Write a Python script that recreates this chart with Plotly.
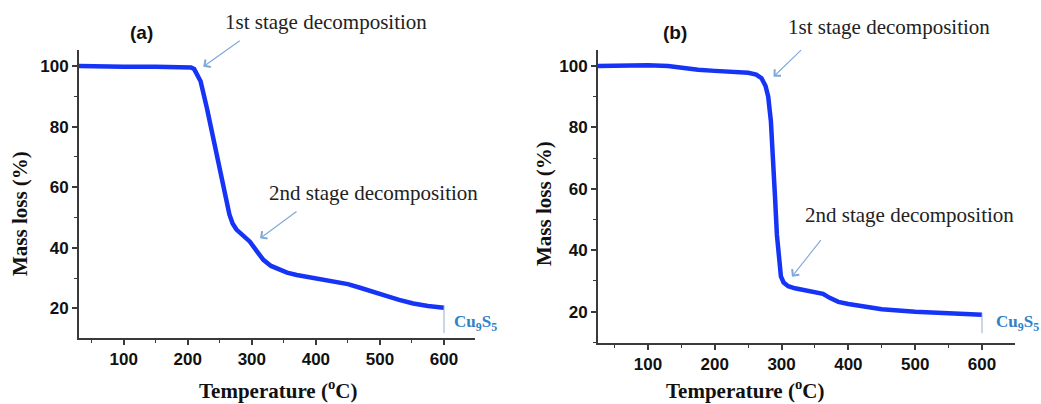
import plotly.graph_objects as go

W, H = 1041, 404

# ---------------- data ----------------
temp_a = [30, 50, 100, 150, 190, 200, 205, 210, 215, 220, 230, 240, 250, 258, 265, 270, 276,
          285, 297, 308, 318, 330, 340, 355, 370, 400, 422, 450, 469, 500, 511, 530, 552, 575, 600]
mass_a = [100.0, 99.9, 99.8, 99.8, 99.8, 99.7, 99.5, 99.0, 97.3, 95.0, 86.0, 76.5, 66.5, 58.0, 51.0,
          48.0, 46.0, 44.2, 42.0, 38.8, 36.0, 34.0, 33.0, 31.8, 31.0, 30.0, 28.9, 28.0, 26.8,
          25.0, 24.0, 22.8, 21.6, 20.8, 20.2]

temp_b = [25, 50, 100, 130, 150, 175, 200, 225, 250, 262, 270, 276, 280, 284, 287, 290, 293,
          296, 299, 303, 310, 320, 335, 350, 362, 372, 385, 400, 425, 450, 500, 550, 600]
mass_b = [100.0, 100.1, 100.2, 100.0, 99.4, 98.8, 98.4, 98.2, 97.8, 97.2, 96.0, 93.5, 90.0,
          82.0, 72.0, 58.0, 45.0, 36.0, 31.5, 29.5, 28.3, 27.6, 27.0, 26.5, 25.8, 24.5, 23.2,
          22.5, 21.5, 20.8, 20.0, 19.5, 19.0]

x_ticks = [100, 200, 300, 400, 500, 600]
y_ticks = [20, 40, 60, 80, 100]

panel_labels = ["(a)", "(b)"]
stage1_text = "1st stage decomposition"
stage2_text = "2nd stage decomposition"
product_text = "Cu<sub>9</sub>S<sub>5</sub>"
x_title = "Temperature (<sup>o</sup>C)"
y_title = "Mass loss (%)"

# ---------------- figure ----------------
def px(x):
    return x / W

def py(y):
    return 1 - y / H

LINE_COLOR = "rgb(22,52,246)"
AXIS_COLOR = "#3a3a3a"
ARROW_COLOR = "#7ea8d8"
SERIF = "Liberation Serif, Times New Roman, serif"
SANS = "Liberation Sans, Arial, sans-serif"

fig = go.Figure()
fig.add_trace(go.Scatter(x=temp_a, y=mass_a, mode="lines", xaxis="x", yaxis="y",
                         line=dict(color=LINE_COLOR, width=4.5), showlegend=False))
fig.add_trace(go.Scatter(x=temp_b, y=mass_b, mode="lines", xaxis="x2", yaxis="y2",
                         line=dict(color=LINE_COLOR, width=4.5), showlegend=False))

tick_font = dict(family=SANS, size=17, color="#111", weight="bold")

def xaxis_cfg(domain, rng, anchor):
    return dict(domain=domain, range=rng, anchor=anchor, tickvals=x_ticks,
                showgrid=False, zeroline=False, showline=True, linecolor=AXIS_COLOR, linewidth=2,
                ticks="outside", ticklen=5, tickwidth=1.5, tickcolor=AXIS_COLOR,
                minor=dict(tickvals=[50, 150, 250, 350, 450, 550], ticks="outside", ticklen=3,
                           tickwidth=1.2, tickcolor=AXIS_COLOR),
                tickfont=tick_font)

def yaxis_cfg(domain, rng, anchor):
    return dict(domain=domain, range=rng, anchor=anchor, tickvals=y_ticks,
                showgrid=False, zeroline=False, showline=True, linecolor=AXIS_COLOR, linewidth=2,
                ticks="outside", ticklen=5, tickwidth=1.5, tickcolor=AXIS_COLOR,
                minor=dict(tickvals=[10, 30, 50, 70, 90], ticks="outside", ticklen=3,
                           tickwidth=1.2, tickcolor=AXIS_COLOR),
                tickfont=tick_font)

fig.update_layout(
    width=W, height=H, margin=dict(l=0, r=0, t=0, b=0),
    paper_bgcolor="white", plot_bgcolor="white",
    xaxis=xaxis_cfg([px(79), px(475)], [30.2, 648.4], "y"),
    yaxis=yaxis_cfg([py(338), py(50)], [10.2, 105.3], "x"),
    xaxis2=xaxis_cfg([px(598), px(1015)], [25.2, 649.4], "y2"),
    yaxis2=yaxis_cfg([py(343), py(50)], [9.8, 105.2], "x2"),
)

ann = []
def text(x, y, t, font, xanchor="center", **kw):
    ann.append(dict(x=px(x), y=py(y), xref="paper", yref="paper", text=t, showarrow=False,
                    xanchor=xanchor, yanchor="middle", font=font, **kw))

# panel labels
pl_font = dict(family=SANS, size=19, color="#111", weight="bold")
text(141.5, 33, panel_labels[0], pl_font)
text(675, 33, panel_labels[1], pl_font)
# stage texts
tfont = dict(family=SERIF, size=21, color="#222")
text(325.7, 21.7, stage1_text, tfont)
text(889, 26.7, stage1_text, tfont)
text(373, 193, stage2_text, tfont)
text(909, 215, stage2_text, tfont)
# axis titles
bfont = dict(family=SERIF, size=21, color="#111", weight="bold")
text(278.3, 389.5, x_title, bfont)
text(745, 389.5, x_title, bfont)
text(20, 214, y_title, bfont, textangle=-90)
text(544, 204, y_title, bfont, textangle=-90)
# product labels
pfont = dict(family=SERIF, size=17, color="#2f82c8", weight="bold")
text(452, 323, product_text, pfont, xanchor="left")
text(994, 323, product_text, pfont, xanchor="left")

# arrows (head at data coords, tail offset in pixels)
arrows = [
    ("x", "y", 224.2, 99.8, 38, -27),
    ("x", "y", 312.8, 43.1, 38, -28),
    ("x2", "y2", 288, 96.5, 29, -28),
    ("x2", "y2", 315.6, 31.4, 30, -38),
]
for xr, yr, xh, yh, axp, ayp in arrows:
    ann.append(dict(x=xh, y=yh, xref=xr, yref=yr, ax=axp, ay=ayp, text="", showarrow=True,
                    arrowhead=4, arrowsize=1.6, arrowwidth=1.1, arrowcolor=ARROW_COLOR))
fig.update_layout(annotations=ann)

# thin vertical lines under product label
fig.add_shape(type="line", xref="x", yref="y", x0=600, x1=600, y0=20.8, y1=11.8,
              line=dict(color="#8fb0d0", width=1))
fig.add_shape(type="line", xref="x2", yref="y2", x0=600, x1=600, y0=19.5, y1=13.0,
              line=dict(color="#8fb0d0", width=1))

fig.write_html("out.html")
